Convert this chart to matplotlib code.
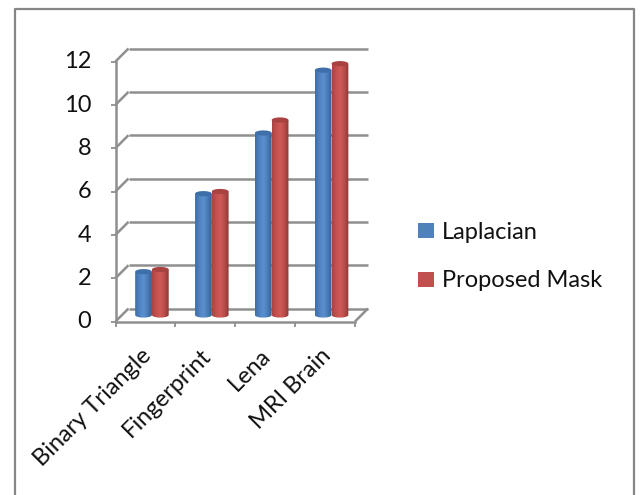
import matplotlib
matplotlib.use("Agg")
import matplotlib.pyplot as plt
import numpy as np
from matplotlib.lines import Line2D
from matplotlib.patches import Patch, PathPatch
from matplotlib.path import Path
from matplotlib.colors import LinearSegmentedColormap
from matplotlib.transforms import ScaledTranslation

categories = ['Binary Triangle', 'Fingerprint', 'Lena', 'MRI Brain']
laplacian = [2.0, 5.6, 8.4, 11.3]
proposed_mask = [2.1, 5.7, 9.0, 11.6]
y_ticks = [0, 2, 4, 6, 8, 10, 12]

W, H = 641, 495
plt.rcParams['font.family'] = ['Lato', 'DejaVu Sans']
GREY = '#8f8f8f'

fig = plt.figure(figsize=(W / 100, H / 100), dpi=100)
# axes is the front plane of the fake 3D box
ax = fig.add_axes([115.5 / W, 1 - 321.5 / H, 239.5 / W, 260 / H])
ax.set_xlim(-0.5, 3.5)
ax.set_ylim(0, 12)

# one depth step in data units, about 6.5 px
dx = 6.5 / (239.5 / 4)
dy = 6.5 / (260 / 12)


def line(xs, ys, z=1, lw=1.8):
    ax.plot(xs, ys, color=GREY, lw=lw, clip_on=False, zorder=z, solid_capstyle='butt')


# back wall gridlines and the little diagonals on the left
for v in y_ticks:
    line([-0.5 + 2 * dx, 3.5 + 2 * dx], [v + 2 * dy, v + 2 * dy])
    line([-0.5, -0.5 + 2 * dx], [v, v + 2 * dy])
line([3.5, 3.5 + 2 * dx], [0, 2 * dy])


def cylinder(x0, x1, top, cmap, top_color):
    # body with round bottom, shaded left to right
    xc = (x0 + x1) / 2
    rx = (x1 - x0) / 2
    ry = 0.12
    a = np.linspace(np.pi, 2 * np.pi, 20)
    xs = np.r_[x0, xc + rx * np.cos(a), x1, x0]
    ys = np.r_[top + dy, dy + ry * np.sin(a), top + dy, top + dy]
    patch = PathPatch(Path(np.c_[xs, ys]), fc='none', ec='none', transform=ax.transData)
    ax.add_patch(patch)
    grad = np.linspace(0, 1, 64).reshape(1, -1)
    im = ax.imshow(grad, extent=(x0, x1, dy - ry, top + dy), cmap=cmap, aspect='auto',
                   zorder=3, interpolation='bilinear')
    im.set_clip_path(patch)
    # round top
    a = np.linspace(0, 2 * np.pi, 40)
    ax.fill(xc + rx * np.cos(a), top + dy + ry * np.sin(a), color=top_color, lw=0, zorder=3.1,
            clip_on=False)


blue_map = LinearSegmentedColormap.from_list('b', ['#3f6da6', '#4f82c0', '#5b90d0', '#4a7cb8', '#36608f'])
red_map = LinearSegmentedColormap.from_list('r', ['#a84442', '#c4514e', '#cf5a57', '#b84c49', '#8a3735'])

bar_w = 0.28
for i in range(len(categories)):
    cylinder(i + dx - bar_w, i + dx, laplacian[i], blue_map, '#3f6fa8')
    cylinder(i + dx, i + dx + bar_w, proposed_mask[i], red_map, '#a84341')

ax.set_xlim(-0.5, 3.5)
ax.set_ylim(0, 12)

for side in ['top', 'right']:
    ax.spines[side].set_visible(False)
for side in ['left', 'bottom']:
    ax.spines[side].set_color(GREY)
    ax.spines[side].set_linewidth(1.8)
ax.patch.set_alpha(0)

ax.set_yticks(y_ticks)
ax.tick_params(axis='y', length=3.6, width=1.3, color=GREY, pad=14, labelsize=17, labelcolor='#111111')
ax.set_xticks(range(len(categories)))
ax.set_xticklabels(categories, rotation=45, ha='right', rotation_mode='anchor')
ax.tick_params(axis='x', which='major', length=0, pad=17, labelsize=17, labelcolor='#111111')
ax.set_xticks(np.arange(-0.5, 4), minor=True)
ax.tick_params(axis='x', which='minor', length=3.6, width=1.3, color=GREY)

# labels sit a little left of the slot centre
shift = ScaledTranslation(-5 / 100, 0, fig.dpi_scale_trans)
for lab in ax.get_xticklabels():
    lab.set_transform(lab.get_transform() + shift)
# y labels a touch higher than the ticks
lift = ScaledTranslation(0, 1.5 / 100, fig.dpi_scale_trans)
for lab in ax.get_yticklabels():
    lab.set_transform(lab.get_transform() + lift)

handles = [Patch(fc='#4f81bd', ec='none', label='Laplacian'),
           Patch(fc='#c0504d', ec='none', label='Proposed Mask')]
fig.legend(handles=handles, loc='upper left', bbox_to_anchor=(418 / W, 1 - 222 / H),
           frameon=False, fontsize=17, handlelength=0.68, handleheight=0.6,
           handletextpad=0.34, labelspacing=1.16, borderpad=0, borderaxespad=0, labelcolor='#111111')

# outer frame, its bottom edge is cut off in the original
fig.add_artist(Line2D([14.5 / W, 14.5 / W, 633.5 / W, 633.5 / W], [0, 1 - 9 / H, 1 - 9 / H, 0],
                      color='#868686', lw=1.6, transform=fig.transFigure))

fig.savefig('out.png', dpi=100)
